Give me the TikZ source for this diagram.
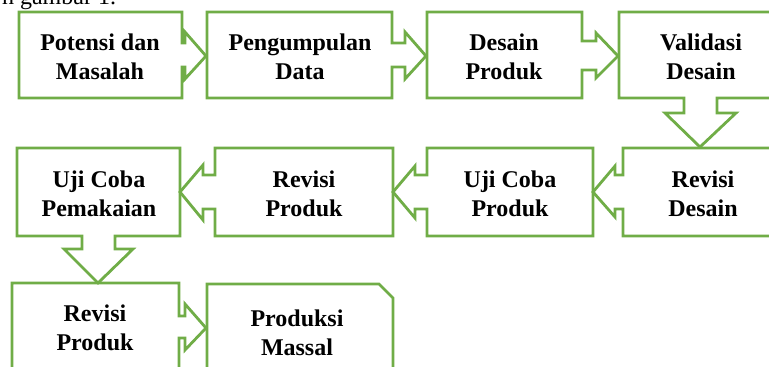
\documentclass[tikz,border=0pt]{standalone}
\usepackage{fontspec}
\setmainfont{Liberation Serif}
\definecolor{boxgreen}{RGB}{112,173,71}
\begin{document}
\begin{tikzpicture}[x=0.5pt,y=-0.5pt,
    flowbox/.style={draw=boxgreen,line width=1.4pt,line join=miter},
    boxtext/.style={font=\fontsize{12pt}{14.5pt}\selectfont\bfseries,align=center}]
    \useasboundingbox (0,0) rectangle (769,367);
    \node[anchor=base west,font=\fontsize{12pt}{14.5pt}\selectfont] (capt) at (-5,5) {h gambar 1.};

    % first row, left to right
    \draw[flowbox] (19,12) -- (182,12) -- (182,43) -- (185,43) -- (185,32) -- (206,56)
      -- (185,79) -- (185,67) -- (182,67) -- (182,98) -- (19,98) -- cycle;
    \draw[flowbox] (207,12) -- (392,12) -- (392,43) -- (405,43) -- (405,32) -- (426,56)
      -- (405,79) -- (405,67) -- (392,67) -- (392,98) -- (207,98) -- cycle;
    \draw[flowbox] (427,12) -- (582,12) -- (582,41) -- (596,41) -- (596,33) -- (618,56)
      -- (596,78) -- (596,70) -- (582,70) -- (582,98) -- (427,98) -- cycle;
    \draw[flowbox] (619,12) -- (784,12) -- (784,98) -- (717,98) -- (717,113) -- (736,113)
      -- (700,147) -- (665,113) -- (684,113) -- (684,98) -- (619,98) -- cycle;

    % second row, right to left
    \draw[flowbox] (784,148) -- (623,148) -- (623,175) -- (615,175) -- (615,166) -- (593,192)
      -- (615,217) -- (615,209) -- (623,209) -- (623,236) -- (784,236) -- cycle;
    \draw[flowbox] (593,148) -- (427,148) -- (427,175) -- (415,175) -- (415,166) -- (393,192)
      -- (415,218) -- (415,209) -- (427,209) -- (427,236) -- (593,236) -- cycle;
    \draw[flowbox] (393,148) -- (215,148) -- (215,175) -- (203,175) -- (203,165) -- (180,192)
      -- (203,220) -- (203,209) -- (215,209) -- (215,236) -- (393,236) -- cycle;
    \draw[flowbox] (17,148) -- (180,148) -- (180,236) -- (115,236) -- (115,249) -- (133,249)
      -- (98,283) -- (64,249) -- (82,249) -- (82,236) -- (17,236) -- cycle;

    % third row
    \draw[flowbox] (12,380) -- (12,283) -- (179,283) -- (179,316) -- (185,316) -- (185,304)
      -- (206,328) -- (185,350) -- (185,338) -- (179,338) -- (179,380);
    \draw[flowbox] (207,380) -- (207,284) -- (379,284) -- (393,298) -- (393,380);

    \node[boxtext] (potensi) at (100,57) {Potensi dan\\Masalah};
    \node[boxtext] (pengumpulan) at (300,57) {Pengumpulan\\Data};
    \node[boxtext] (desain) at (504,57) {Desain\\Produk};
    \node[boxtext] (validasi) at (701,57) {Validasi\\Desain};
    \node[boxtext] (revdesain) at (703,194) {Revisi\\Desain};
    \node[boxtext] (ujiproduk) at (510,194) {Uji Coba\\Produk};
    \node[boxtext] (revproduk) at (304,194) {Revisi\\Produk};
    \node[boxtext] (pemakaian) at (99,194) {Uji Coba\\Pemakaian};
    \node[boxtext] (revprodukdua) at (95,328) {Revisi\\Produk};
    \node[boxtext] (produksi) at (297,333) {Produksi\\Massal};
\end{tikzpicture}
\end{document}
